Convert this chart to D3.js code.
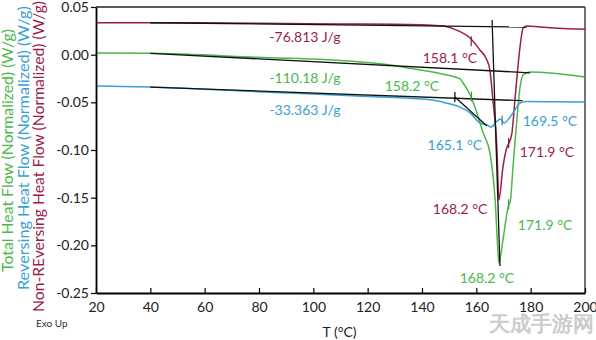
<!DOCTYPE html>
<html>
<head>
<meta charset="utf-8">
<script src="https://cdn.jsdelivr.net/npm/d3@7"></script>
<style>
  html, body { margin: 0; padding: 0; background: #fff; }
  svg { display: block; }
  text { font-family: Lato, "Open Sans", sans-serif; }
</style>
</head>
<body>
<svg id="chart" width="596" height="340"></svg>
<script>
// ---------- DATA ----------
const xTicks = [20, 40, 60, 80, 100, 120, 140, 160, 180, 200];
const xTickLabels = ["20", "40", "60", "80", "100", "120", "140", "160", "180", "200"];
const yTicks = [0.05, 0.00, -0.05, -0.10, -0.15, -0.20, -0.25];
const yTickLabels = ["0.05", "0.00", "-0.05", "-0.10", "-0.15", "-0.20", "-0.25"];

// Non-Reversing heat flow
const tNonRev = [20, 40, 80, 110, 130, 146.6, 154.0, 157.7, 161.3, 163.9, 165.0, 166.1, 167.6, 168.3, 169.8, 171.3, 172.0, 173.1, 174.2, 175.3, 176.4, 177.2, 178.6, 183.4, 190, 200];
const vNonRev = [0.0335, 0.0335, 0.0330, 0.0322, 0.0318, 0.0304, 0.0241, 0.0175, 0.0049, -0.0056, -0.0161, -0.0476, -0.1000, -0.1525, -0.1178, -0.0969, -0.0927, -0.0822, -0.0476, -0.0129, 0.0154, 0.0280, 0.0300, 0.0290, 0.0278, 0.0266];

// Total heat flow
const tTotal = [20, 40, 79.3, 116.1, 128.2, 135.6, 144.0, 149.2, 154.0, 155.1, 157.7, 160.2, 162.5, 165.0, 166.9, 168.0, 168.3, 169.8, 171.3, 172.0, 172.4, 173.5, 175.0, 176.1, 177.2, 179.8, 187.1, 200];
const vTotal = [0.0017, 0.0014, -0.0028, -0.0074, -0.0109, -0.0143, -0.0182, -0.0213, -0.0255, -0.0297, -0.0420, -0.0610, -0.0820, -0.1030, -0.1520, -0.2080, -0.2186, -0.1944, -0.1660, -0.1570, -0.1556, -0.1178, -0.0654, -0.0339, -0.0213, -0.0182, -0.0192, -0.0234];

// Reversing heat flow
const tRev = [20, 40, 79.3, 116.1, 135.6, 144.0, 149.2, 154.0, 157.7, 161.3, 163.9, 165.5, 167.3, 168.9, 170.2, 172.4, 174.2, 176.1, 178.6, 190, 200];
const vRev = [-0.0329, -0.0340, -0.0388, -0.0434, -0.0458, -0.0476, -0.0510, -0.0550, -0.0610, -0.0717, -0.0738, -0.0759, -0.0706, -0.0675, -0.0717, -0.0654, -0.0580, -0.0507, -0.0491, -0.0495, -0.0497];

// analysis lines (black): [T1, v1, T2, v2]
const analysisLines = [
  [40, 0.0335, 178.6, 0.0290],     // non-reversing baseline
  [40, 0.0014, 179.8, -0.0190],    // total baseline
  [40, -0.0340, 177.0, -0.0483],   // reversing baseline
  [152.1, -0.0444, 163.9, -0.0748],// reversing onset tangent
  [165.8, 0.0364, 168.7, -0.2217]  // peak line
];

// small point markers on curves
const markerT = [158.1, 158.2, 152.1, 169.5, 171.9, 171.9];
const markerV = [0.0140, -0.0440, -0.0444, -0.0690, -0.0927, -0.1570];
const markerSeries = [0, 1, 3, 2, 0, 1];

// annotations (centre T, baseline value)
const annText = ["-76.813 J/g", "-110.18 J/g", "-33.363 J/g", "158.1 °C", "158.2 °C", "165.1 °C", "169.5 °C", "171.9 °C", "168.2 °C", "171.9 °C", "168.2 °C"];
const annT =    [96.9, 96.9, 96.9, 150.3, 136.3, 152.1, 187.1, 186.0, 154.0, 185.3, 163.9];
const annV =    [0.0133, -0.0297, -0.0633, -0.0087, -0.0381, -0.1000, -0.0748, -0.1073, -0.1671, -0.1839, -0.2395];
const annSeries = [0, 1, 2, 0, 1, 2, 2, 0, 0, 1, 1];

const colors = ["#9c1c4c", "#4cb74a", "#3a9fd3", "#000000"];

// ---------- CHART ----------
const W = 596, H = 340;
const margin = {left: 96, right: 11, top: 7, bottom: 47};
const svg = d3.select("#chart");

const x = d3.scaleLinear().domain([20, 200]).range([margin.left, W - margin.right]);
const y = d3.scaleLinear().domain([-0.25, 0.05]).range([H - margin.bottom, margin.top]);

// watermark (behind)
svg.append("text").attr("x", 489).attr("y", 331)
  .attr("font-family", "'Noto Sans CJK SC', sans-serif").attr("font-weight", 700)
  .attr("font-size", 21).attr("fill", "#c4c4c4").attr("opacity", 0.85).text("天成手游网");

// frame (top & right)
svg.append("line").attr("x1", x(20)).attr("x2", x(200)).attr("y1", y(0.05)).attr("y2", y(0.05))
  .attr("stroke", "#222").attr("stroke-width", 1.5);
svg.append("line").attr("x1", x(200)).attr("x2", x(200)).attr("y1", y(0.05)).attr("y2", y(-0.25))
  .attr("stroke", "#444").attr("stroke-width", 1.5);

// curves
const line = d3.line().x(d => x(d[0])).y(d => y(d[1])).curve(d3.curveMonotoneX);
const series = [
  {t: tNonRev, v: vNonRev, c: colors[0]},
  {t: tTotal, v: vTotal, c: colors[1]},
  {t: tRev, v: vRev, c: colors[2]}
];
const gCurves = svg.append("g");
series.forEach(s => {
  gCurves.append("path")
    .datum(s.t.map((t, i) => [t, s.v[i]]))
    .attr("d", line)
    .attr("fill", "none")
    .attr("stroke", s.c)
    .attr("stroke-width", 1.5);
});

// analysis lines
svg.append("g").selectAll("line").data(analysisLines).join("line")
  .attr("x1", d => x(d[0])).attr("y1", d => y(d[1]))
  .attr("x2", d => x(d[2])).attr("y2", d => y(d[3]))
  .attr("stroke", "#111").attr("stroke-width", 1.3);

// markers
svg.append("g").selectAll("line").data(markerT.map((t, i) => i)).join("line")
  .attr("x1", i => x(markerT[i])).attr("x2", i => x(markerT[i]))
  .attr("y1", i => y(markerV[i]) - 5).attr("y2", i => y(markerV[i]) + 5)
  .attr("stroke", i => d3.color(colors[markerSeries[i]]).darker(0.6))
  .attr("stroke-width", 1.2);

// annotations
svg.append("g").selectAll("text").data(annText.map((t, i) => i)).join("text")
  .attr("x", i => x(annT[i])).attr("y", i => y(annV[i]))
  .attr("text-anchor", "middle")
  .attr("font-size", 14)
  .attr("fill", i => colors[annSeries[i]])
  .text(i => annText[i]);

// axes
const xAxis = d3.axisBottom(x).tickValues(xTicks).tickFormat((d, i) => xTickLabels[i])
  .tickSizeInner(-5).tickSizeOuter(0).tickPadding(9);
const gx = svg.append("g").attr("transform", `translate(0,${y(-0.25)})`).call(xAxis);
gx.select(".domain").attr("stroke", "#000").attr("stroke-width", 1.8);
gx.selectAll(".tick line").attr("stroke", "#000").attr("stroke-width", 1.2);
gx.selectAll(".tick text").attr("font-size", 14).attr("fill", "#222").attr("font-family", "Lato, sans-serif");

const yAxis = d3.axisLeft(y).tickValues(yTicks).tickFormat((d, i) => yTickLabels[i])
  .tickSizeInner(5).tickSizeOuter(0).tickPadding(2);
const gy = svg.append("g").attr("transform", `translate(${x(20)},0)`).call(yAxis);
gy.select(".domain").attr("stroke", "#000").attr("stroke-width", 1.8);
gy.selectAll(".tick line").attr("stroke", "#000").attr("stroke-width", 1.2);
gy.selectAll(".tick text").attr("font-size", 14).attr("fill", "#222").attr("font-family", "Lato, sans-serif");

// axis titles
svg.append("text").attr("x", (x(20) + x(200)) / 2 - 1).attr("y", 337)
  .attr("text-anchor", "middle").attr("font-size", 14).attr("fill", "#222").text("T (°C)");

// y titles: baseline x, bottom y, target length
const yTitles = [
  {t: "Total Heat Flow (Normalized) (W/g)", c: colors[1], bx: 13, by: 272, len: 243},
  {t: "Reversing Heat Flow (Normalized) (W/g)", c: colors[2], bx: 28.5, by: 290, len: 284},
  {t: "Non-REversing Heat Flow (Normalized) (W/g)", c: colors[0], bx: 44, by: 312, len: 311}
];
yTitles.forEach(d => {
  const t = svg.append("text")
    .attr("transform", `translate(${d.bx},${d.by}) rotate(-90)`)
    .attr("text-anchor", "start")
    .attr("font-size", 15)
    .attr("fill", d.c)
    .text(d.t);
  const L = t.node().getComputedTextLength();
  t.attr("font-size", (15 * d.len / L).toFixed(2));
});

svg.append("text").attr("x", 36).attr("y", 327).attr("font-size", 10).attr("fill", "#333").text("Exo Up");
</script>
</body>
</html>
